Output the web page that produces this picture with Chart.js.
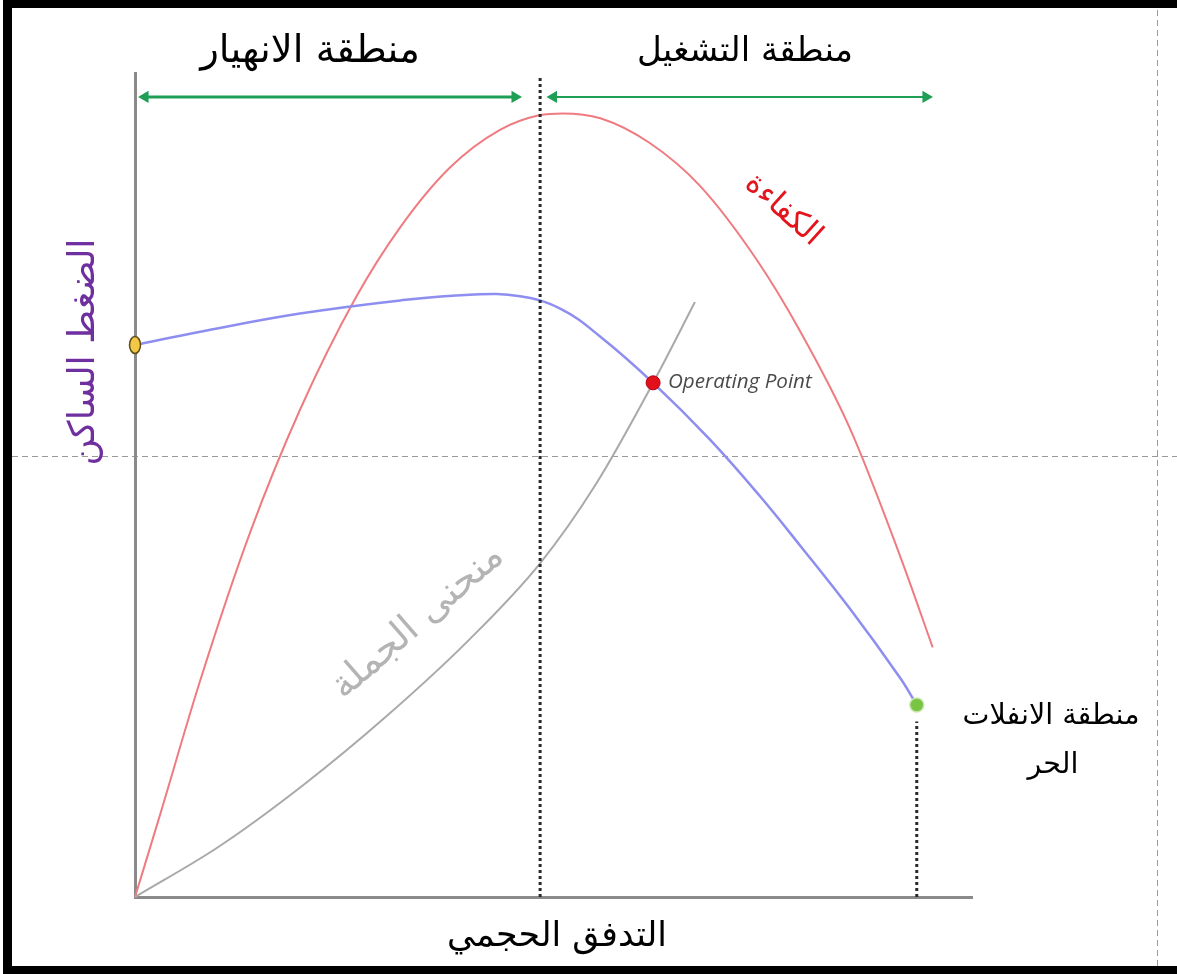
<!DOCTYPE html>
<html lang="ar">
<head>
<meta charset="utf-8">
<script src="https://cdn.jsdelivr.net/npm/chart.js@4.4.1/dist/chart.umd.min.js"></script>
<style>
  html, body { margin: 0; padding: 0; background: #fff; }
  canvas { display: block; }
</style>
</head>
<body>
<canvas id="myChart" width="1177" height="974"></canvas>
<script>
// readings from the picture: x = flow, y = value, both in % of axis length
const efficiencyX = [0, 3.0, 7.8, 13.7, 19.7, 26.3, 31.7, 37.6, 43.6, 48.4, 51.1, 55.6, 61.5, 67.5, 74.3, 79.5, 85.4, 91.4, 95.3];
const efficiencyY = [0, 10.0, 26.3, 44.1, 59.1, 72.6, 81.3, 88.5, 93.1, 94.9, 95.1, 94.5, 91.5, 86.3, 77.3, 68.6, 56.9, 41.4, 30.3];

const pressureX = [0, 7.8, 19.7, 31.7, 40.0, 46.0, 50.8, 55.6, 61.9, 68.7, 74.7, 79.5, 85.4, 91.4, 93.4];
const pressureY = [67.0, 68.6, 70.8, 72.4, 73.1, 72.9, 71.4, 68.0, 62.4, 55.5, 48.6, 42.6, 35.0, 26.6, 23.3];

const systemX = [0, 10, 20, 30, 40, 48.4, 55, 61.9, 66.9];
const systemY = [0, 6.1, 13.5, 21.9, 31.3, 40.5, 50.0, 62.4, 72.2];

// special points: shut-off, operating point, free delivery
const shutoffPoint = [0, 67.0];
const operatingPoint = [61.9, 62.4];
const freeDeliveryPoint = [93.4, 23.3];

// region boundaries
const surgeLimitX = 48.4;
const regionArrowY = 97.1;
const surgeArrow = [1.2, 45.4];
const operatingArrow = [50.0, 94.5];

// texts
const surgeRegionLabel = 'منطقة الانهيار';
const operatingRegionLabel = 'منطقة التشغيل';
const freeDeliveryLabel = ['منطقة الانفلات', 'الحر'];
const flowAxisTitle = 'التدفق الحجمي';
const pressureAxisTitle = 'الضغط الساكن';
const systemCurveLabel = 'منحنى الجملة';
const efficiencyLabel = 'الكفاءة';
const operatingPointLabel = 'Operating Point';

const toPoints = (xs, ys) => xs.map((x, i) => ({x: x, y: ys[i]}));

// yellow oval marker for the shut-off head
const oval = document.createElement('canvas');
oval.width = 14; oval.height = 20;
{
    const c = oval.getContext('2d');
    c.beginPath();
    c.ellipse(7, 10, 5.5, 8.5, 0, 0, Math.PI * 2);
    c.fillStyle = '#f3c847';
    c.fill();
    c.lineWidth = 1.5;
    c.strokeStyle = '#5b4a16';
    c.stroke();
}

function fitFont(ctx, text, width, style, family) {
    ctx.font = style + ' 40px ' + family;
    const size = 40 * width / ctx.measureText(text).width;
    return style + ' ' + size.toFixed(1) + 'px ' + family;
}

function drawText(ctx, text, x, y, font, color, angle, align) {
    ctx.save();
    ctx.translate(x, y);
    ctx.rotate((angle || 0) * Math.PI / 180);
    ctx.font = font;
    ctx.fillStyle = color;
    ctx.textAlign = align || 'center';
    ctx.textBaseline = 'middle';
    ctx.fillText(text, 0, 0);
    ctx.restore();
}

const arabic = '"DejaVu Sans", sans-serif';

const frame = {
    id: 'frame',
    beforeDraw(chart) {
        const ctx = chart.ctx;
        ctx.save();
        ctx.fillStyle = '#fff';
        ctx.fillRect(0, 0, chart.width, chart.height);
        // thin dashed guides
        ctx.strokeStyle = '#9a9a9a';
        ctx.lineWidth = 1;
        ctx.setLineDash([6, 4]);
        ctx.beginPath();
        ctx.moveTo(1157.5, 0); ctx.lineTo(1157.5, chart.height);
        ctx.moveTo(12, 456.5); ctx.lineTo(chart.width, 456.5);
        ctx.stroke();
        ctx.restore();
    },
    afterDraw(chart) {
        const ctx = chart.ctx;
        ctx.save();
        // black frame (no right edge)
        ctx.fillStyle = '#000';
        ctx.fillRect(3, 0, chart.width - 3, 8);
        ctx.fillRect(3, 0, 9, chart.height);
        ctx.fillRect(3, 966, chart.width - 3, 8);

        drawText(ctx, surgeRegionLabel, 310, 52, fitFont(ctx, surgeRegionLabel, 220, 'normal', arabic), '#000');
        drawText(ctx, operatingRegionLabel, 745, 52, fitFont(ctx, operatingRegionLabel, 216, 'normal', arabic), '#000');

        const fd = fitFont(ctx, freeDeliveryLabel[0], 177, 'normal', arabic);
        drawText(ctx, freeDeliveryLabel[0], 1051, 717, fd, '#000');
        drawText(ctx, freeDeliveryLabel[1], 1053, 766, fd, '#000');

        drawText(ctx, flowAxisTitle, 557, 937, fitFont(ctx, flowAxisTitle, 220, 'normal', arabic), '#000');
        drawText(ctx, pressureAxisTitle, 85, 352, fitFont(ctx, pressureAxisTitle, 227, 'normal', arabic), '#6f2f9f', -90);
        drawText(ctx, systemCurveLabel, 418, 622, fitFont(ctx, systemCurveLabel, 215, 'normal', arabic), '#b4b4b4', -41);
        drawText(ctx, efficiencyLabel, 783, 210, fitFont(ctx, efficiencyLabel, 92, 'normal', arabic), '#e3141c', 42);
        drawText(ctx, operatingPointLabel, 668, 382, fitFont(ctx, operatingPointLabel, 144, 'italic', '"Open Sans", sans-serif'), '#4a4a4a', 0, 'left');
        ctx.restore();
    }
};

const green = '#1f9e55';

const data = {
    datasets: [
        {   // operating point
            data: [{x: operatingPoint[0], y: operatingPoint[1]}],
            showLine: false, pointRadius: 7, pointBackgroundColor: '#e3101b', pointBorderColor: '#b00010', pointBorderWidth: 1
        },
        {   // free delivery
            data: [{x: freeDeliveryPoint[0], y: freeDeliveryPoint[1]}],
            showLine: false, pointRadius: 7, pointBackgroundColor: '#79c443', pointBorderColor: '#c9e8b0', pointBorderWidth: 1.5
        },
        {   // shut-off
            data: [{x: shutoffPoint[0], y: shutoffPoint[1]}],
            showLine: false, pointStyle: oval, pointRadius: 10
        },
        {   // surge region arrow
            data: [{x: surgeArrow[0], y: regionArrowY}, {x: surgeArrow[1], y: regionArrowY}],
            borderColor: green, borderWidth: 3, pointStyle: 'triangle', pointRotation: [-90, 90],
            pointRadius: 7, pointBackgroundColor: green, pointBorderWidth: 0
        },
        {   // operating region arrow
            data: [{x: operatingArrow[0], y: regionArrowY}, {x: operatingArrow[1], y: regionArrowY}],
            borderColor: green, borderWidth: 2, pointStyle: 'triangle', pointRotation: [-90, 90],
            pointRadius: 7, pointBackgroundColor: green, pointBorderWidth: 0
        },
        {   // surge limit
            data: [{x: surgeLimitX, y: 0}, {x: surgeLimitX, y: 99.4}],
            borderColor: '#2a2a2a', borderWidth: 3, borderDash: [3, 3], pointRadius: 0
        },
        {   // free delivery drop
            data: [{x: freeDeliveryPoint[0], y: 0}, {x: freeDeliveryPoint[0], y: freeDeliveryPoint[1] - 2}],
            borderColor: '#2a2a2a', borderWidth: 3, borderDash: [3, 3], pointRadius: 0
        },
        {   // static pressure
            data: toPoints(pressureX, pressureY),
            borderColor: '#8e8ef0', borderWidth: 2.5, pointRadius: 0, tension: 0.4
        },
        {   // system curve
            data: toPoints(systemX, systemY),
            borderColor: '#a9a9a9', borderWidth: 2, pointRadius: 0, cubicInterpolationMode: 'monotone'
        },
        {   // efficiency
            data: toPoints(efficiencyX, efficiencyY),
            borderColor: '#ef7b80', borderWidth: 2, pointRadius: 0, cubicInterpolationMode: 'monotone'
        }
    ]
};

const zeroWidth = scale => { scale.width = 0; };
const zeroHeight = scale => { scale.height = 0; };

const config = {
    type: 'line',
    data: data,
    options: {
        responsive: false,
        animation: false,
        clip: false,
        layout: { padding: { left: 135, top: 73, right: 205, bottom: 77 } },
        scales: {
            x: {
                type: 'linear', min: 0, max: 100,
                ticks: { display: false },
                grid: { display: false, drawTicks: false },
                border: { display: true, color: '#8a8a8a', width: 3 },
                afterFit: zeroHeight
            },
            y: {
                type: 'linear', min: 0, max: 100,
                ticks: { display: false },
                grid: { display: false, drawTicks: false },
                border: { display: true, color: '#8a8a8a', width: 3 },
                afterFit: zeroWidth
            }
        },
        plugins: {
            legend: { display: false },
            tooltip: { enabled: false }
        }
    },
    plugins: [frame]
};

const myChart = new Chart(document.getElementById('myChart'), config);
</script>
</body>
</html>
